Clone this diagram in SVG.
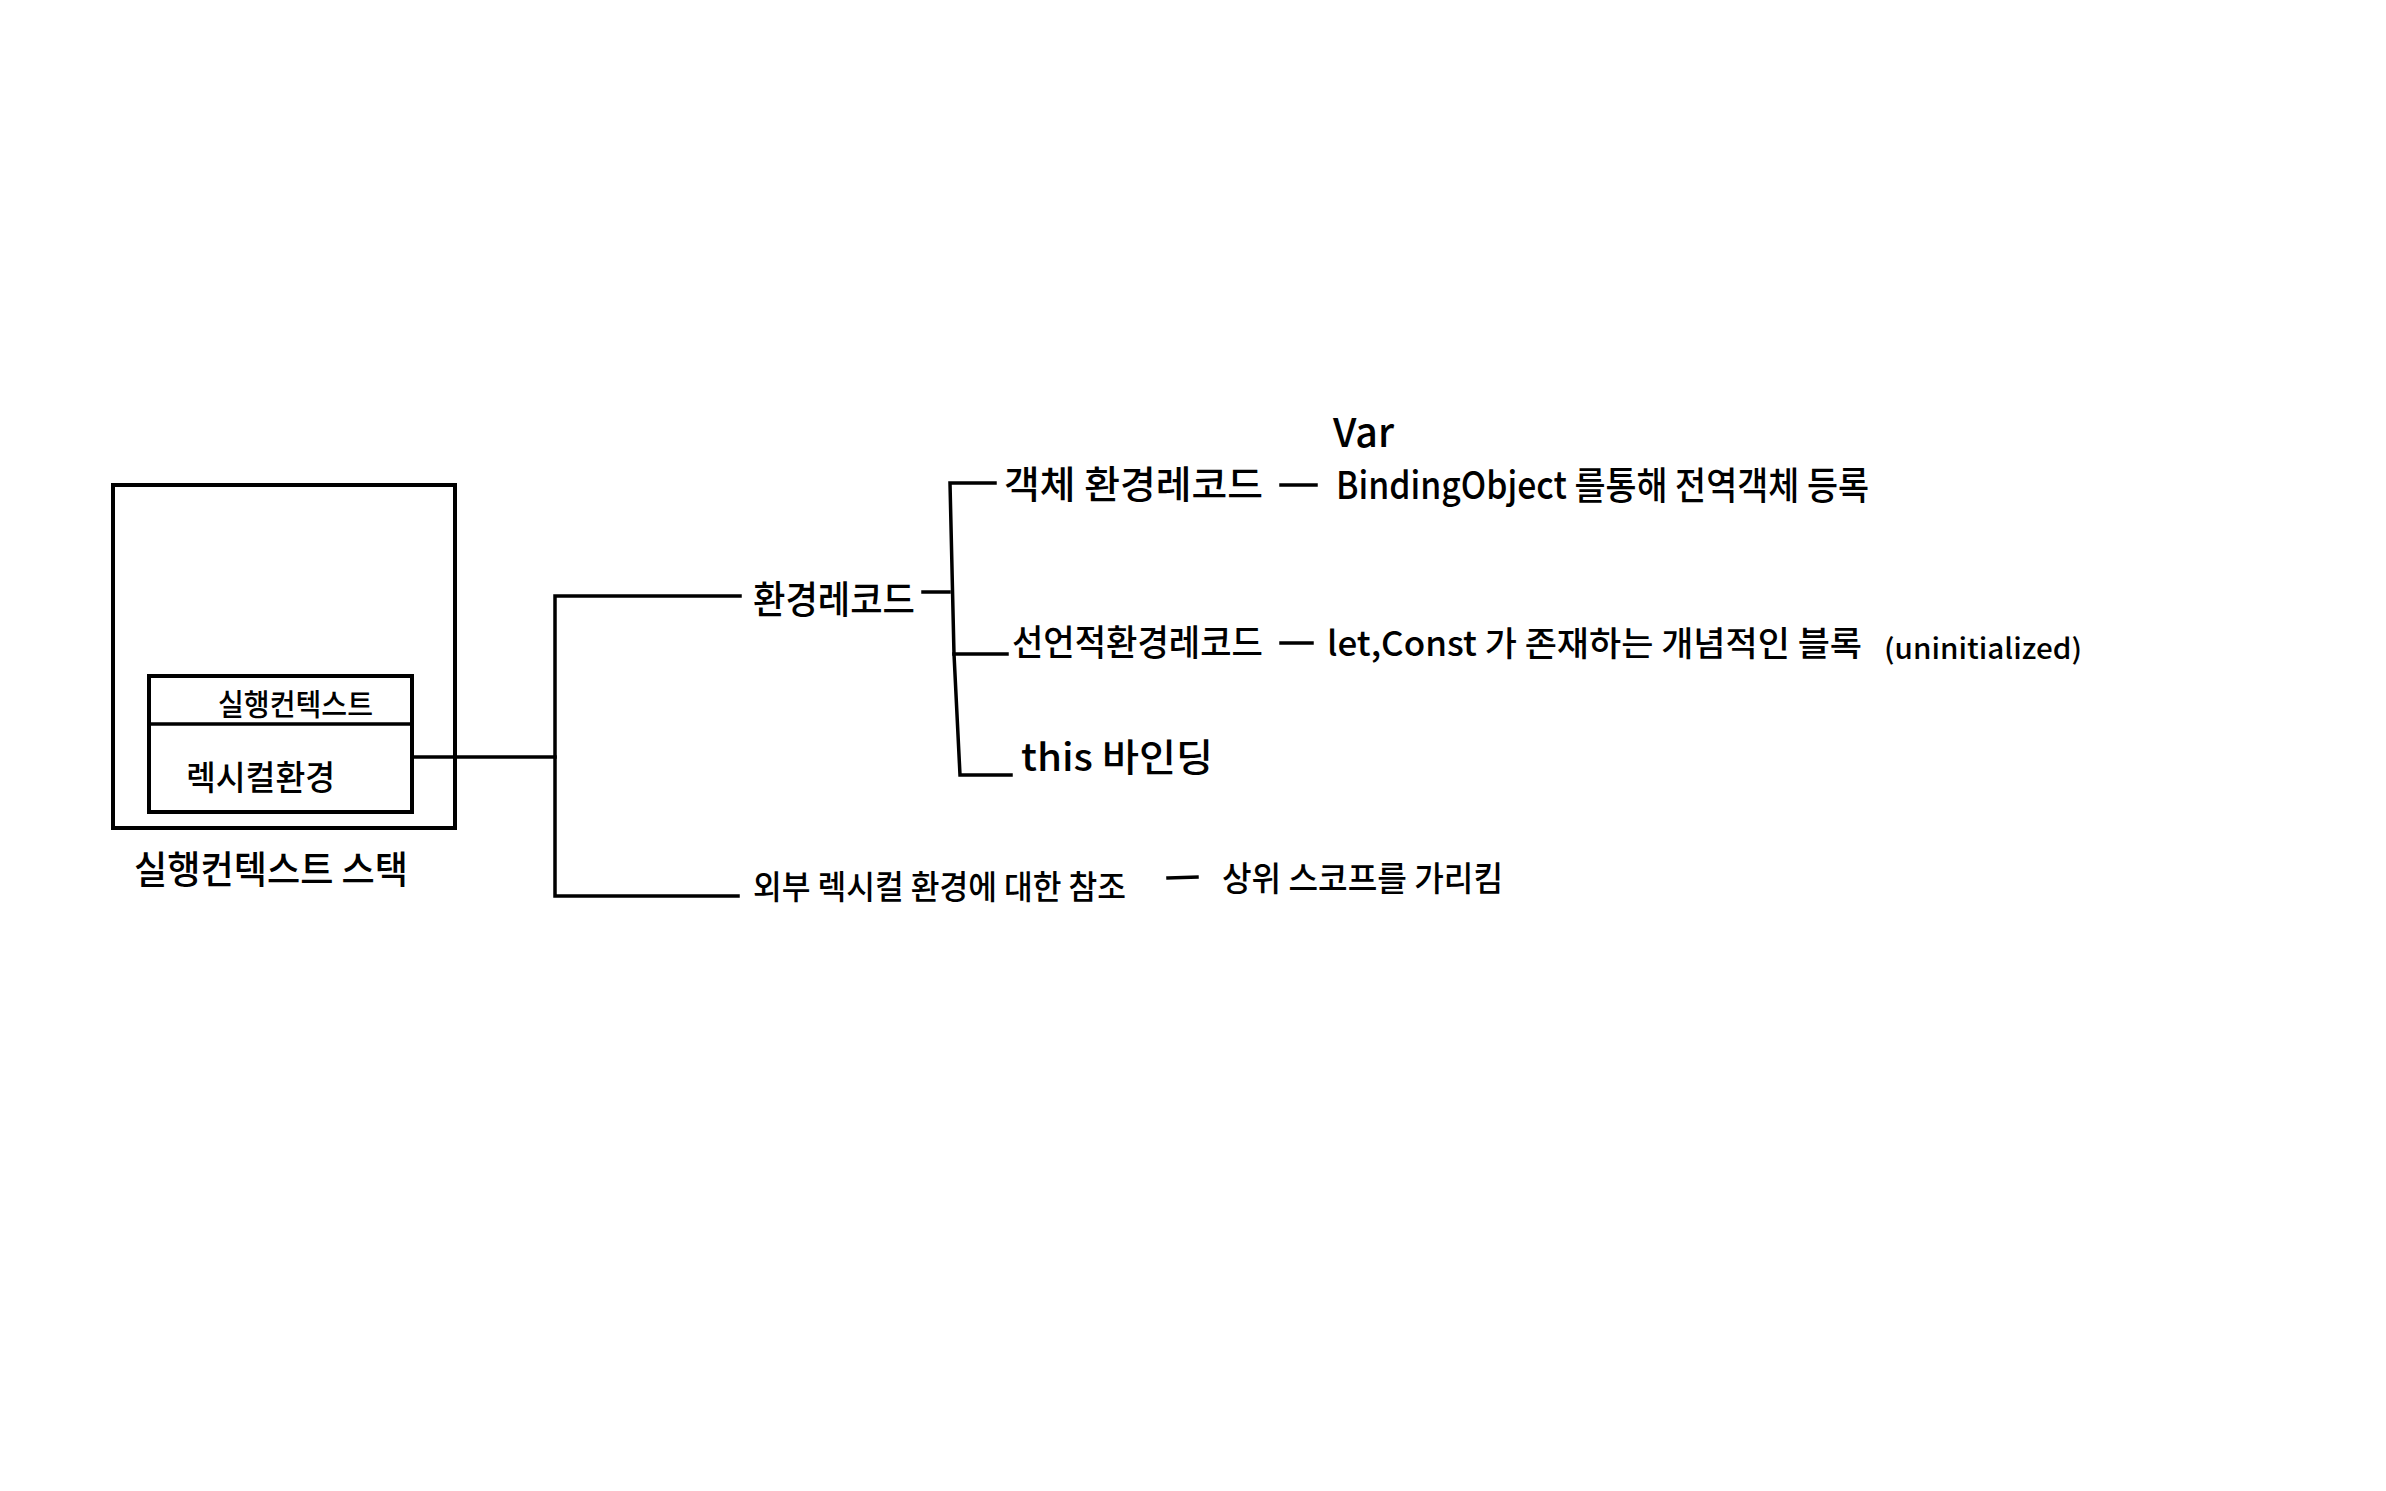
<svg xmlns="http://www.w3.org/2000/svg" width="2386" height="1491" viewBox="0 0 2386 1491">
<style>
.ln{fill:none;stroke:#000;stroke-width:3.5;stroke-linecap:square}
.box{fill:#fff;stroke:#000;stroke-width:4}
.t{font-family:"Noto Sans CJK KR","Noto Sans",sans-serif;fill:#000;font-weight:500}
</style>
<rect width="2386" height="1491" fill="#fff"/>
<g id="stack">
<rect class="box" x="113" y="485" width="342" height="343"/>
<text class="t" x="134" y="883" font-size="38" textLength="274" lengthAdjust="spacingAndGlyphs">실행컨텍스트 스택</text>
</g>
<g id="context">
<rect class="box" x="149" y="676" width="263" height="136"/>
<line class="ln" x1="149" y1="724" x2="412" y2="724"/>
<text class="t" x="218" y="715" font-size="30" textLength="155" lengthAdjust="spacingAndGlyphs">실행컨텍스트</text>
<text class="t" x="186" y="790" font-size="34" textLength="149" lengthAdjust="spacingAndGlyphs">렉시컬환경</text>
</g>
<g id="connectors">
<polyline class="ln" points="412,757 555,757"/>
<polyline class="ln" points="740,596 555,596 555,896 738,896"/>
<line class="ln" x1="923" y1="592" x2="949" y2="592"/>
<polyline class="ln" points="995,483 950,483 954,654 960,775 1011,775"/>
<line class="ln" x1="954" y1="654" x2="1007" y2="654"/>
<line class="ln" x1="1281" y1="485" x2="1316" y2="485"/>
<line class="ln" x1="1281" y1="643" x2="1312" y2="643"/>
<line class="ln" x1="1168" y1="878" x2="1197" y2="877"/>
</g>
<g id="env-record">
<text class="t" x="753" y="613" font-size="38" textLength="162" lengthAdjust="spacingAndGlyphs">환경레코드</text>
</g>
<g id="outer-ref">
<text class="t" x="753" y="899" font-size="33" textLength="373" lengthAdjust="spacingAndGlyphs">외부 렉시컬 환경에 대한 참조</text>
</g>
<g id="outer-ref-desc">
<text class="t" x="1222" y="891" font-size="34" textLength="281" lengthAdjust="spacingAndGlyphs">상위 스코프를 가리킴</text>
</g>
<g id="object-env">
<text class="t" x="1004" y="498" font-size="38" textLength="259" lengthAdjust="spacingAndGlyphs">객체 환경레코드</text>
</g>
<g id="object-env-desc">
<text class="t" x="1333" y="447" font-size="40" textLength="61" lengthAdjust="spacingAndGlyphs">Var</text>
<text class="t" x="1336" y="499" font-size="38" textLength="533" lengthAdjust="spacingAndGlyphs">BindingObject 를통해  전역객체 등록</text>
</g>
<g id="decl-env">
<text class="t" x="1012" y="656" font-size="36" textLength="251" lengthAdjust="spacingAndGlyphs">선언적환경레코드</text>
</g>
<g id="decl-env-desc">
<text class="t" x="1327" y="656" font-size="34" textLength="535" lengthAdjust="spacingAndGlyphs">let,Const 가 존재하는 개념적인 블록</text>
<text class="t" x="1884" y="659" font-size="28" textLength="198" lengthAdjust="spacingAndGlyphs">(uninitialized)</text>
</g>
<g id="this-binding">
<text class="t" x="1021" y="771" font-size="38" textLength="192" lengthAdjust="spacingAndGlyphs">this 바인딩</text>
</g>
</svg>
